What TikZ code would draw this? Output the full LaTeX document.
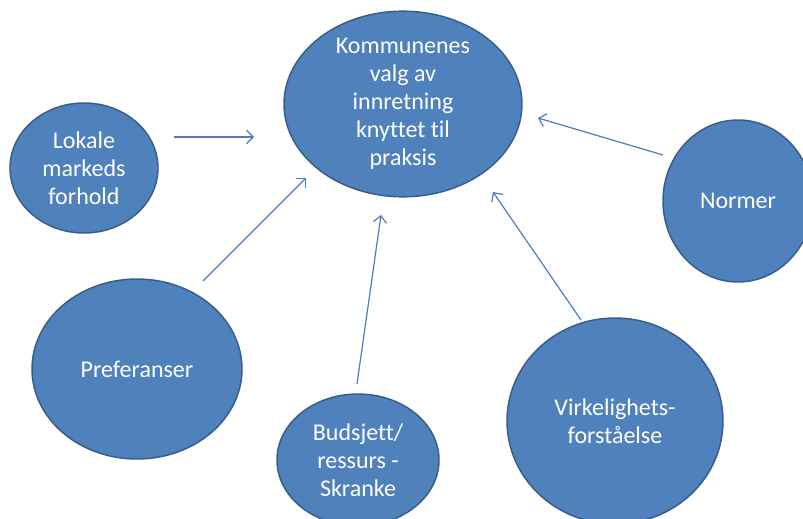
\documentclass[tikz,border=0pt]{standalone}
\usepackage{fontspec}
\setmainfont[Ligatures=NoCommon]{Carlito}
\usetikzlibrary{shapes.geometric,arrows.meta}
\definecolor{bfill}{HTML}{4F81BD}
\definecolor{bdraw}{HTML}{385D8A}
\definecolor{arr}{HTML}{4A7EBB}
\tikzset{
  bubble/.style={ellipse, fill=bfill, draw=bdraw, line width=1.1pt, inner sep=0pt,
    text=white, align=center, font=\fontsize{18}{21}\selectfont},
  conn/.style={draw=arr, line width=0.9pt, -{Straight Barb[length=5pt,width=10pt,line width=0.9pt]}}
}
\begin{document}
\begin{tikzpicture}[x=0.75pt,y=-0.75pt]
\useasboundingbox (0,0) rectangle (803,518);
\clip (0,0) rectangle (803,518);
\fill[white] (0,0) rectangle (803,518);
\node[bubble, minimum width=178.5pt, minimum height=135pt] (c) at (403,104) {Kommunenes\\valg av\\innretning\\knyttet til\\praksis};
\node[bubble, minimum width=111pt, minimum height=97.5pt] (lok) at (84,168) {Lokale\\markeds\\forhold};
\node[bubble, minimum width=112.5pt, minimum height=121.5pt] (nor) at (738,201) {Normer};
\node[bubble, minimum width=157.5pt, minimum height=135pt] (pref) at (137,369) {Preferanser};
\node[bubble, minimum width=121.5pt, minimum height=99pt] (bud) at (358,460) {Budsjett/\\ressurs -\\Skranke};
\node[bubble, minimum width=162pt, minimum height=154.5pt] (virk) at (615,421) {Virkelighets-\\forståelse};
\coordinate (a1s) at (174,137); \coordinate (a1e) at (254,137);
\coordinate (a2s) at (203,281); \coordinate (a2e) at (306,178);
\coordinate (a3s) at (357,384); \coordinate (a3e) at (381,215);
\coordinate (a4s) at (581,320); \coordinate (a4e) at (493,192);
\coordinate (a5s) at (663,155); \coordinate (a5e) at (538,118);
\draw[conn] (a1s) -- (a1e);
\draw[conn] (a2s) -- (a2e);
\draw[conn] (a3s) -- (a3e);
\draw[conn] (a4s) -- (a4e);
\draw[conn] (a5s) -- (a5e);
\end{tikzpicture}
\end{document}
